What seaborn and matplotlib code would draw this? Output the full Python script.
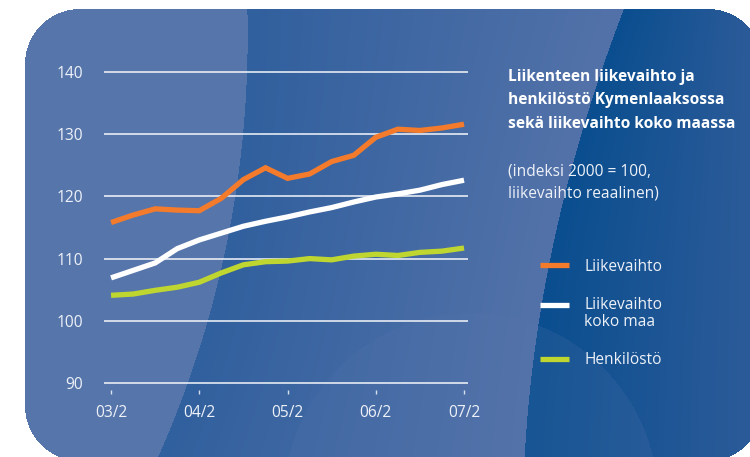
import numpy as np
import pandas as pd
import matplotlib
matplotlib.use("Agg")
import matplotlib.pyplot as plt
import seaborn as sns
from matplotlib.lines import Line2D

# quarterly index values (2000 = 100)
quarters = ["03/2", "03/3", "03/4", "04/1", "04/2", "04/3", "04/4", "05/1", "05/2",
            "05/3", "05/4", "06/1", "06/2", "06/3", "06/4", "07/1", "07/2"]
liikevaihto = [115.8, 117.0, 118.0, 117.8, 117.7, 119.7, 122.7, 124.6, 122.9,
               123.6, 125.6, 126.6, 129.5, 130.8, 130.6, 131.0, 131.6]
koko_maa = [106.9, 108.1, 109.3, 111.6, 113.0, 114.1, 115.2, 116.0, 116.7,
            117.5, 118.2, 119.1, 119.9, 120.4, 121.0, 121.9, 122.6]
henkilosto = [104.1, 104.3, 104.9, 105.4, 106.2, 107.7, 109.0, 109.5, 109.6,
              110.0, 109.8, 110.4, 110.7, 110.5, 111.0, 111.2, 111.7]
tick_labels = ["03/2", "04/2", "05/2", "06/2", "07/2"]
series_names = ["Liikevaihto", "Liikevaihto\nkoko maa", "Henkilöstö"]
series_colors = ["#f47b2b", "#ffffff", "#bed62f"]

title_lines = ["Liikenteen liikevaihto ja", "henkilöstö Kymenlaaksossa",
               "sekä liikevaihto koko maassa"]
subtitle_lines = ["(indeksi 2000 = 100,", "liikevaihto reaalinen)"]

W, H = 750, 457
sns.set_style("white")
plt.rcParams["font.family"] = ["Open Sans", "DejaVu Sans"]
txt_col = "#eef2f8"
fs = 11.2

fig = plt.figure(figsize=(W / 100, H / 100), dpi=100)
fig.patch.set_facecolor("white")

# ---- background panel (decoration) ----
yy, xx = np.mgrid[0:H, 0:W] + 0.5

def rounded_mask(x0, y0, x1, y1, r):
    cx = np.clip(xx, x0 + r, x1 - r)
    cy = np.clip(yy, y0 + r, y1 - r)
    return ((xx - cx) ** 2 + (yy - cy) ** 2 <= r ** 2) & (xx >= x0) & (xx <= x1) & (yy >= y0) & (yy <= y1)

def hexrgb(h):
    h = h.lstrip("#")
    return np.array([int(h[i:i + 2], 16) for i in (0, 2, 4)]) / 255.0

panel = rounded_mask(25, 9, 763, 461, 55)
c1 = np.polyfit([0, 100, 180, 260, 340, 457], [247, 246, 238, 222, 203, 158], 3)
b1 = np.polyval(c1, yy)
c2 = np.polyfit([0, 50, 130, 210, 240, 340, 457], [628, 608, 582, 562, 555, 535, 525], 3)
b2 = np.polyval(c2, yy)
arc = (xx - 471) ** 2 + (yy - 500) ** 2 <= 187 ** 2

light = hexrgb("#5675ab")
img = np.ones((H, W, 3))
# middle band: gradient dark -> light
t = np.clip((xx - b1) / np.maximum(b2 - b1, 1), 0, 1)[..., None]
mid = hexrgb("#31609e") * (1 - t) + hexrgb("#5372a9") * t
# right band: deep blue -> medium
u = np.clip((xx - b2) / np.maximum(W - b2, 1), 0, 1)[..., None]
right = hexrgb("#0a4e8f") * (1 - u) + hexrgb("#2c5b99") * u
col = np.where((xx < b1)[..., None], light, np.where((xx < b2)[..., None], mid, right))
col = np.where(arc[..., None] & (xx >= b1)[..., None], col * 0.82 + light * 0.18, col)
img = np.where(panel[..., None], col, img)

bg = fig.add_axes([0, 0, 1, 1], zorder=-1)
bg.imshow(img, extent=(0, W, H, 0), aspect="auto", interpolation="bilinear")
bg.set_xlim(0, W)
bg.set_ylim(H, 0)
bg.axis("off")

# ---- chart ----
df = pd.DataFrame({
    "idx": list(range(len(quarters))) * 3,
    "value": liikevaihto + koko_maa + henkilosto,
    "series": [series_names[0]] * len(quarters) + [series_names[1]] * len(quarters)
              + [series_names[2]] * len(quarters),
})

ax = fig.add_axes([104 / W, 1 - 390 / H, 364 / W, 320 / H])
ax.set_facecolor("none")
sns.lineplot(data=df, x="idx", y="value", hue="series", hue_order=series_names,
             palette=series_colors, linewidth=3.8, legend=False, ax=ax)
for ln in ax.lines:
    ln.set_solid_capstyle("butt")
    ln.set_solid_joinstyle("miter")

ax.set_xlim(-0.32, 16.18)
ax.set_ylim(88.875, 140.32)
ax.set_yticks(range(90, 141, 10))
ax.set_xticks([quarters.index(q) for q in tick_labels])
ax.set_xticklabels(tick_labels)
ax.set_axisbelow(True)
ax.yaxis.grid(True, color="white", linewidth=1.3, alpha=0.8)
ax.xaxis.grid(False)
for s in ax.spines.values():
    s.set_visible(False)
ax.tick_params(axis="y", length=0, pad=15, labelsize=fs, labelcolor=txt_col)
ax.tick_params(axis="x", length=3, width=1, color=(1, 1, 1, 0.8), direction="out",
               pad=8, labelsize=fs, labelcolor=txt_col, bottom=True)
ax.set_xlabel("")
ax.set_ylabel("")

# ---- title & legend ----
for line, by in zip(title_lines, [81, 104.5, 128]):
    fig.text(508 / W, 1 - by / H, line, color="white", fontsize=fs, fontweight="bold",
             va="baseline", ha="left")
for line, by in zip(subtitle_lines, [176, 198]):
    fig.text(508 / W, 1 - by / H, line, color=txt_col, fontsize=fs,
             va="baseline", ha="left")

handle_y = [265, 305, 359]
label_y = [271, 309, 364]
for name, c, hy, ly in zip(series_names, series_colors, handle_y, label_y):
    fig.add_artist(Line2D([540 / W, 569 / W], [1 - hy / H] * 2, color=c, lw=3.8,
                          solid_capstyle="butt", transform=fig.transFigure))
    for k, part in enumerate(name.split("\n")):
        fig.text(584 / W, 1 - (ly + 17 * k) / H, part, color=txt_col, fontsize=fs,
                 va="baseline", ha="left")

fig.savefig("out.png", dpi=100)
